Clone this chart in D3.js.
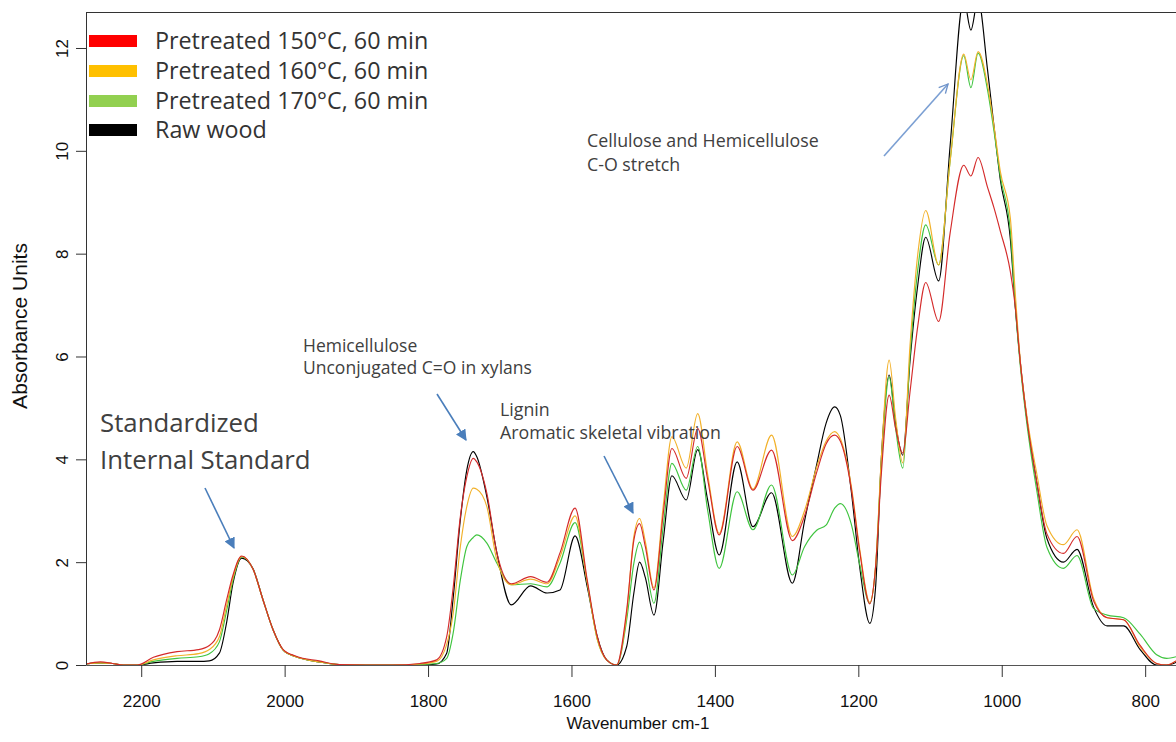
<!DOCTYPE html>
<html>
<head>
<meta charset="utf-8">
<script src="https://cdn.jsdelivr.net/npm/d3@7"></script>
<style>
  body { margin: 0; background: #fff; }
  svg { display: block; }
</style>
</head>
<body>
<div id="chart"></div>
<script>
// wavenumbers (cm-1), shared by all spectra
var wn = [2277,2257,2240,2225,2205,2183,2150,2120,2105,2091,2081,2072,2060,2044,2030,2016,2002,1984,1952,1924,
  1850,1811,1788,1774,1765,1755,1746,1737,1732,1718,1704,1684,1657,1634,1616,1595,1578,1564,1551,1537,
  1523,1513,1505,1497,1485,1472,1460,1440,1424,1410,1394,1369,1347,1321,1292,1275,1258,1245,1233,1225,
  1210,1198,1184,1176,1168,1157,1148,1138,1128,1117,1106,1088,1072,1053,1043,1033,1020,1011,1002,988,
  981,974,965,951,937,914,895,872,853,830,807,784,770,757];

var t150 = [0.02,0.06,0.03,0,0,0.15,0.26,0.3,0.38,0.68,1.26,1.75,2.12,1.86,1.26,0.68,0.3,0.17,0.08,0.01,
  0,0.03,0.1,0.55,1.5,2.88,3.66,4.02,3.95,3.34,2.18,1.58,1.72,1.61,2.18,3.05,1.65,0.55,0.1,0,
  1.07,2.43,2.75,2.3,1.46,2.95,4.21,3.63,4.6,3.6,2.53,4.25,3.4,4.18,2.42,2.9,3.75,4.3,4.47,4.35,
  3.45,2.2,1.19,1.9,3.7,5.25,4.6,4.12,5.3,6.6,7.44,6.68,8.4,9.72,9.51,9.87,9.3,8.9,8.44,7.65,
  6.95,5.87,4.79,3.54,2.55,2.17,2.5,1.25,0.92,0.88,0.38,0.03,0,0.08];

var t160 = [0.02,0.04,0.03,0,0,0.1,0.18,0.22,0.3,0.55,1.15,1.7,2.11,1.86,1.26,0.68,0.29,0.16,0.06,0.01,
  0,0.02,0.07,0.4,1.0,2.3,3.08,3.44,3.42,3.08,2.04,1.56,1.67,1.58,2.1,2.9,1.6,0.5,0.1,0,
  1.0,2.5,2.85,2.4,1.5,3.1,4.44,3.83,4.89,3.7,2.56,4.34,3.42,4.47,2.5,3.0,3.85,4.35,4.54,4.4,
  3.5,2.25,1.22,1.9,4.0,5.93,4.8,3.93,6.2,8.0,8.84,7.78,9.8,11.88,11.38,11.93,11.3,10.5,9.6,8.69,
  7.2,5.9,4.85,3.71,2.71,2.34,2.63,1.3,0.92,0.88,0.35,0.03,0,0.08];

var t170 = [0.02,0.04,0.03,0,0,0.07,0.13,0.16,0.22,0.45,1.05,1.65,2.1,1.86,1.26,0.68,0.29,0.16,0.06,0.01,
  0,0.01,0.03,0.13,0.62,1.65,2.3,2.48,2.53,2.37,1.98,1.56,1.58,1.52,1.98,2.77,1.6,0.5,0.1,0,
  0.88,1.98,2.39,2.0,1.2,2.7,3.92,3.4,4.25,3.0,1.88,3.37,2.63,3.5,1.75,2.3,2.62,2.72,3.05,3.14,
  2.75,1.95,1.2,1.9,3.9,5.6,4.6,3.83,6.0,7.7,8.56,7.78,9.8,11.85,11.23,11.9,11.2,10.4,9.5,8.44,
  6.95,5.8,4.7,3.38,2.29,1.88,2.13,1.1,0.97,0.92,0.6,0.2,0.13,0.16];

var rawWood = [0.02,0.04,0.03,0,0,0.04,0.07,0.07,0.08,0.23,0.82,1.59,2.08,1.87,1.26,0.68,0.29,0.16,0.06,0.01,
  0,0,0.02,0.23,1.3,2.82,3.79,4.15,4.05,3.27,2.18,1.17,1.54,1.4,1.46,2.51,1.52,0.55,0.1,0,
  0.36,1.4,2.0,1.7,0.97,2.43,3.68,3.21,4.19,3.2,2.14,3.95,2.69,3.35,1.59,2.8,3.9,4.7,5.02,4.85,
  3.4,1.9,0.81,1.5,4.0,5.64,4.7,4.08,5.9,7.4,8.32,7.47,10.1,12.95,12.35,12.95,11.6,10.5,9.44,8.28,
  6.95,5.87,4.79,3.54,2.46,2.0,2.25,1.13,0.76,0.76,0.3,0,0,0.05];

var legendLabels = ["Pretreated 150°C, 60 min", "Pretreated 160°C, 60 min", "Pretreated 170°C, 60 min", "Raw wood"];
var legendColors = ["#ff0000", "#ffc000", "#92d050", "#000000"];
var lineColors = ["#d42a2a", "#f2b12a", "#3fc43f", "#000000"];
var xTicks = [2200, 2000, 1800, 1600, 1400, 1200, 1000, 800];
var yTicks = [0, 2, 4, 6, 8, 10, 12];

var width = 1176, height = 742;
var marginLeft = 86, plotTop = 12, plotBottom = 665;
var axisFont = "Liberation Sans, Arial, sans-serif";
var noteFont = "Open Sans, sans-serif";

var svg = d3.select("#chart").append("svg").attr("width", width).attr("height", height);

var x = d3.scaleLinear().domain([2277, 757]).range([marginLeft, width]);
var y = d3.scaleLinear().domain([0, 12.7]).range([plotBottom, plotTop]);

svg.append("clipPath").attr("id", "plot")
  .append("rect").attr("x", marginLeft).attr("y", plotTop)
  .attr("width", width - marginLeft).attr("height", plotBottom - plotTop);

// series, black first so the pretreated ones sit on top
var series = [
  { values: rawWood, color: lineColors[3] },
  { values: t170, color: lineColors[2] },
  { values: t160, color: lineColors[1] },
  { values: t150, color: lineColors[0] }
];

var line = d3.line()
  .x(function (d) { return x(d[0]); })
  .y(function (d) { return y(d[1]); })
  .curve(d3.curveMonotoneX);

svg.append("g").attr("clip-path", "url(#plot)")
  .selectAll("path")
  .data(series)
  .enter()
  .append("path")
  .attr("fill", "none")
  .attr("stroke", function (d) { return d.color; })
  .attr("stroke-width", 1.15)
  .attr("d", function (d) { return line(wn.map(function (w, i) { return [w, d.values[i]]; })); });

// axes
var xAxis = svg.append("g")
  .attr("transform", "translate(0," + plotBottom + ")")
  .call(d3.axisBottom(x).tickValues(xTicks).tickFormat(d3.format("d"))
    .tickSize(12).tickSizeOuter(0).tickPadding(18));
xAxis.select(".domain").attr("stroke", "#555");
xAxis.selectAll(".tick line").attr("stroke", "#333");
xAxis.selectAll("text").attr("font-family", axisFont).attr("font-size", 17).attr("fill", "#111");

var yAxis = svg.append("g")
  .attr("transform", "translate(" + marginLeft + ",0)")
  .call(d3.axisLeft(y).tickValues(yTicks).tickSize(10).tickSizeOuter(0));
yAxis.select(".domain").attr("stroke", "#333");
yAxis.selectAll(".tick line").attr("stroke", "#333");
yAxis.selectAll("text")
  .attr("font-family", axisFont).attr("font-size", 17).attr("fill", "#111")
  .attr("transform", "rotate(-90)")
  .attr("x", 0).attr("y", -18).attr("dy", 0)
  .style("text-anchor", "middle");

// top frame line
svg.append("line")
  .attr("x1", marginLeft).attr("x2", width).attr("y1", plotTop + 0.5).attr("y2", plotTop + 0.5)
  .attr("stroke", "#333");

// axis titles
svg.append("text")
  .attr("x", (marginLeft + width) / 2 + 7).attr("y", 729)
  .attr("text-anchor", "middle")
  .attr("font-family", axisFont).attr("font-size", 17).attr("fill", "#111")
  .text("Wavenumber cm-1");

svg.append("text")
  .attr("transform", "translate(27,326) rotate(-90)")
  .attr("text-anchor", "middle")
  .attr("font-family", axisFont).attr("font-size", 21).attr("fill", "#111")
  .text("Absorbance Units");

// legend
var legend = svg.append("g").selectAll("g")
  .data(legendLabels)
  .enter()
  .append("g")
  .attr("transform", function (d, i) { return "translate(89," + [35, 65, 95, 124][i] + ")"; });
legend.append("rect")
  .attr("width", 48).attr("height", 12)
  .attr("fill", function (d, i) { return legendColors[i]; });
legend.append("text")
  .attr("x", 66).attr("y", 14)
  .attr("font-family", noteFont).attr("font-size", 23.3).attr("fill", "#333")
  .text(function (d) { return d; });

// annotations
var note = svg.append("g").attr("font-family", noteFont).attr("fill", "#404040");
function addText(lines, px, py, size, gap) {
  lines.forEach(function (t, i) {
    note.append("text").attr("x", px).attr("y", py + i * gap).attr("font-size", size).text(t);
  });
}
addText(["Standardized", "Internal Standard"], 100, 432, 25.8, 37);
addText(["Hemicellulose", "Unconjugated C=O in xylans"], 303, 352, 17.5, 22);
addText(["Lignin", "Aromatic skeletal vibration"], 500, 416, 17.8, 23);
addText(["Cellulose and Hemicellulose", "C-O stretch"], 587, 147, 17.8, 24);

var defs = svg.append("defs");
defs.append("marker").attr("id", "tri")
  .attr("viewBox", "0 0 10 10").attr("refX", 9).attr("refY", 5)
  .attr("markerWidth", 7).attr("markerHeight", 7).attr("markerUnits", "strokeWidth")
  .attr("orient", "auto")
  .append("path").attr("d", "M0,0L10,5L0,10z").attr("fill", "#4a7ebb");
defs.append("marker").attr("id", "open")
  .attr("viewBox", "0 0 10 10").attr("refX", 9).attr("refY", 5)
  .attr("markerWidth", 7).attr("markerHeight", 7).attr("markerUnits", "strokeWidth")
  .attr("orient", "auto")
  .append("path").attr("d", "M1,1L9,5L1,9").attr("fill", "none").attr("stroke", "#6f93c9").attr("stroke-width", 1.2);

var arrows = [
  { a: [205, 488], b: [234, 548], m: "tri" },
  { a: [437, 394], b: [466, 440], m: "tri" },
  { a: [604, 456], b: [633, 513], m: "tri" },
  { a: [884, 156], b: [948, 84], m: "open" }
];
svg.append("g").selectAll("line")
  .data(arrows)
  .enter()
  .append("line")
  .attr("x1", function (d) { return d.a[0]; }).attr("y1", function (d) { return d.a[1]; })
  .attr("x2", function (d) { return d.b[0]; }).attr("y2", function (d) { return d.b[1]; })
  .attr("stroke", function (d) { return d.m === "tri" ? "#4a7ebb" : "#7b9fd3"; })
  .attr("stroke-width", 1.6)
  .attr("marker-end", function (d) { return "url(#" + d.m + ")"; });
</script>
</body>
</html>
